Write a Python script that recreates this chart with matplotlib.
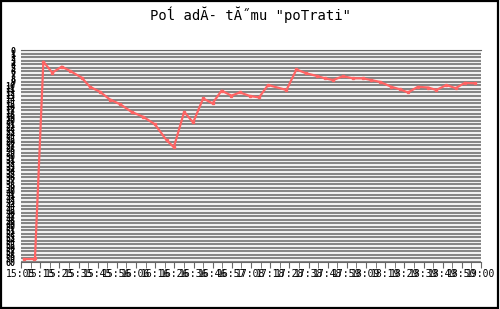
import matplotlib
matplotlib.use("Agg")
import matplotlib.pyplot as plt
from matplotlib.patches import Rectangle
import numpy as np

title = 'Poĺ adĂ- tĂ˝mu "poTrati"'

# minutes since 15:05 and position value
minutes = [1.6, 6.9, 7.45, 11.9, 16.7, 21.7, 26.1, 32.3, 36.7, 42.0, 47.4, 52.7, 58.9,
           65.1, 71.3, 77.5, 81.4, 86.9, 91.7, 97.0, 102.0, 106.8, 112.1, 116.6,
           121.9, 126.8, 131.6, 141.4, 146.7, 152.0, 157.4, 161.8, 166.2, 171.5,
           176.8, 182.2, 186.6, 191.1, 197.3, 201.7, 206.1, 211.4, 216.8, 221.2,
           226.6, 231.5, 236.3, 241.6]
values = [0.85, 0.85, 1.1, 56.7, 53.6, 55.3, 54.1, 52.2, 49.6, 48.2, 46.0, 44.7, 42.5,
          41.1, 39.0, 34.5, 32.5, 42.5, 39.5, 46.3, 44.9, 48.5, 47.1, 48.0,
          47.0, 46.6, 50.1, 48.7, 54.5, 53.4, 52.7, 52.0, 51.5, 52.6,
          52.0, 52.0, 51.5, 51.0, 49.6, 48.9, 48.0, 49.6, 49.4, 48.7,
          50.1, 49.2, 50.7, 50.6]

x_labels = ["15:05", "15:15", "15:25", "15:35", "15:45", "15:56", "16:06", "16:16",
            "16:26", "16:36", "16:46", "16:57", "17:08", "17:18", "17:28", "17:38",
            "17:48", "17:59", "18:09", "18:19", "18:29", "18:39", "18:49", "18:50",
            "19:00"]
y_ticks = list(range(0, 61))

fig = plt.figure(figsize=(5, 3.09), dpi=100)
fig.patch.set_facecolor("white")
fig.patches.append(Rectangle((0.001, 0.002), 0.995, 0.995, transform=fig.transFigure,
                             fill=False, edgecolor="black", linewidth=1.6))

ax = fig.add_axes([0.042, 0.152, 0.920, 0.686])
ax.set_facecolor("#f0f0f0")
xmax = 245
ax.set_xlim(0, xmax)
ax.set_ylim(0, 60)

ax.set_yticks(y_ticks)
ax.set_yticklabels([str(v) for v in y_ticks[::-1]], fontsize=6, family="DejaVu Sans Mono",
                   fontweight="bold", color="black")
ax.tick_params(axis="y", length=0, pad=4)
ax.yaxis.grid(True, color="#666666", linewidth=1.1)
ax.set_axisbelow(True)

major = np.linspace(0, xmax, len(x_labels))
ax.set_xticks(major)
ax.set_xticklabels(x_labels, fontsize=7, family="DejaVu Sans Mono")
ax.set_xticks(np.linspace(0, xmax, 2 * (len(x_labels) - 1) + 1), minor=True)
ax.tick_params(axis="x", which="both", length=4, color="#666666", pad=1)

for s in ["right", "left"]:
    ax.spines[s].set_visible(False)
ax.spines["top"].set_color("#666666")
ax.spines["bottom"].set_color("#666666")

ax.plot(minutes, values, color="#ff6464", linewidth=1.6, marker="s", markersize=1.5)

fig.text(0.5, 0.952, title, ha="center", va="center", fontsize=10,
         family="DejaVu Sans Mono")

fig.savefig("out.png", dpi=100)
